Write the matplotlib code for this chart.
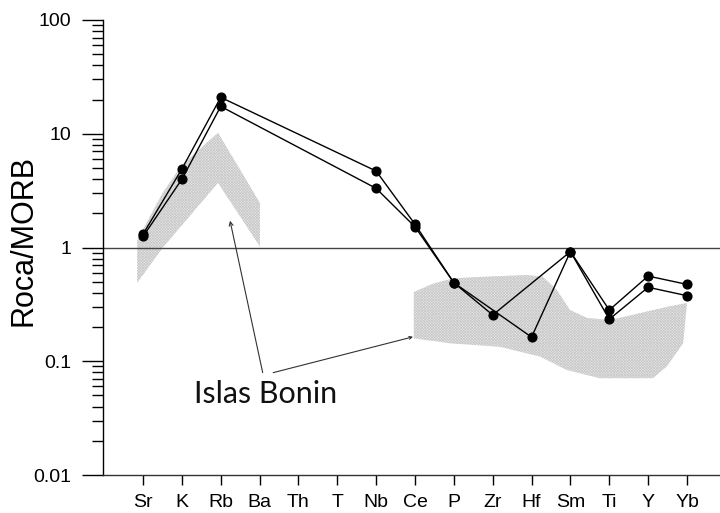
import numpy as np
import matplotlib
matplotlib.use("Agg")
import matplotlib.pyplot as plt
from matplotlib.ticker import LogLocator, NullFormatter, FixedLocator

nan = np.nan
elements = ['Sr', 'K', 'Rb', 'Ba', 'Th', 'T', 'Nb', 'Ce', 'P', 'Zr', 'Hf', 'Sm', 'Ti', 'Y', 'Yb']
sample_a = [1.31, 4.9, 20.9, nan, nan, nan, 4.70, 1.60, 0.49, 0.255, nan, 0.92, 0.282, 0.561, 0.474]
sample_b = [1.25, 3.98, 17.4, nan, nan, nan, 3.31, 1.52, 0.49, nan, 0.163, 0.92, 0.234, 0.447, 0.377]

# Islas Bonin field (left part): polygon vertices (element position, value)
left_x = [-0.15, 0.5, 1.0, 1.93, 3.01, 3.01, 1.93, 0.51, -0.15]
left_y = [1.16, 3.0, 5.3, 10.2, 2.46, 1.02, 3.7, 1.0, 0.49]
# Islas Bonin field (right part)
right_x = [6.97, 7.46, 7.98, 8.75, 9.88, 10.29, 10.65, 10.99, 11.43, 12.02, 13.48, 14.0,
           13.9, 13.48, 13.12, 11.75, 10.9, 10.22, 9.19, 7.9, 6.97]
right_y = [0.406, 0.48, 0.535, 0.553, 0.573, 0.553, 0.423, 0.282, 0.24, 0.23, 0.30, 0.325,
           0.144, 0.090, 0.071, 0.071, 0.084, 0.110, 0.134, 0.144, 0.159]

label_text = "Islas Bonin"
label_pos = (3.15, 0.043)
arrow_tail1 = (3.08, 0.0794)
arrow_tip1 = (2.24, 1.72)
arrow_tail2 = (3.35, 0.0794)
arrow_tip2 = (6.95, 0.164)

plt.rcParams['hatch.linewidth'] = 0.5
fig = plt.figure(figsize=(7.2, 5.13), dpi=100)
ax = fig.add_axes([103/720, 38/513, 1 - 103/720, 455/513])

for fx, fy in [(left_x, left_y), (right_x, right_y)]:
    ax.fill(fx, fy, facecolor='#e8e8e8', edgecolor='#c8c8c8', hatch='xxxxxxxxxxxx',
            linewidth=0, zorder=1)

ax.axhline(1, color='#444444', lw=1.0, zorder=2)

x = np.arange(len(elements))
for s in (sample_a, sample_b):
    v = np.array(s, dtype=float)
    m = np.isfinite(v)
    ax.plot(x[m], v[m], color='black', lw=1.0, marker='o', markersize=6.3, zorder=3)

ax.annotate('', xy=arrow_tip1, xytext=arrow_tail1,
            arrowprops=dict(arrowstyle='->', lw=0.8, color='#333333', mutation_scale=7,
                            shrinkA=0, shrinkB=0))
ax.annotate('', xy=arrow_tip2, xytext=arrow_tail2,
            arrowprops=dict(arrowstyle='->', lw=0.8, color='#333333', mutation_scale=5,
                            shrinkA=0, shrinkB=0))
ax.text(label_pos[0], label_pos[1], label_text, ha='center', va='baseline',
        fontsize=22, family='Lato', fontweight='normal', color='#111111')

ax.set_yscale('log')
ax.set_ylim(0.01, 100)
ax.set_xlim(-1.03, 14.85)
ax.set_xticks(x)
ax.set_xticklabels(elements)
ax.yaxis.set_major_locator(FixedLocator([0.01, 0.1, 1, 10, 100]))
ax.set_yticklabels(['0.01', '0.1', '1', '10', '100'])
ax.yaxis.set_minor_locator(LogLocator(base=10, subs=np.arange(2, 10)))
ax.yaxis.set_minor_formatter(NullFormatter())

for lab in ax.get_xticklabels() + ax.get_yticklabels():
    lab.set_family('Liberation Sans')
    lab.set_fontsize(14)
ax.tick_params(axis='y', which='major', length=15, width=1, pad=8, direction='out')
ax.tick_params(axis='y', which='minor', length=8, width=1, direction='out')
ax.tick_params(axis='x', which='major', length=7.5, width=1, pad=6, direction='out')

fig.text(23.5/720, 1 - 241/513, 'Roca/MORB', rotation=90, ha='center', va='center',
         family='Liberation Sans', fontsize=22)

for side in ('top', 'right'):
    ax.spines[side].set_visible(False)
ax.spines['left'].set_linewidth(1.0)
ax.spines['bottom'].set_linewidth(1.0)
ax.spines['bottom'].set_color('#333333')
ax.patch.set_alpha(0)

fig.savefig('out.png', dpi=100)
